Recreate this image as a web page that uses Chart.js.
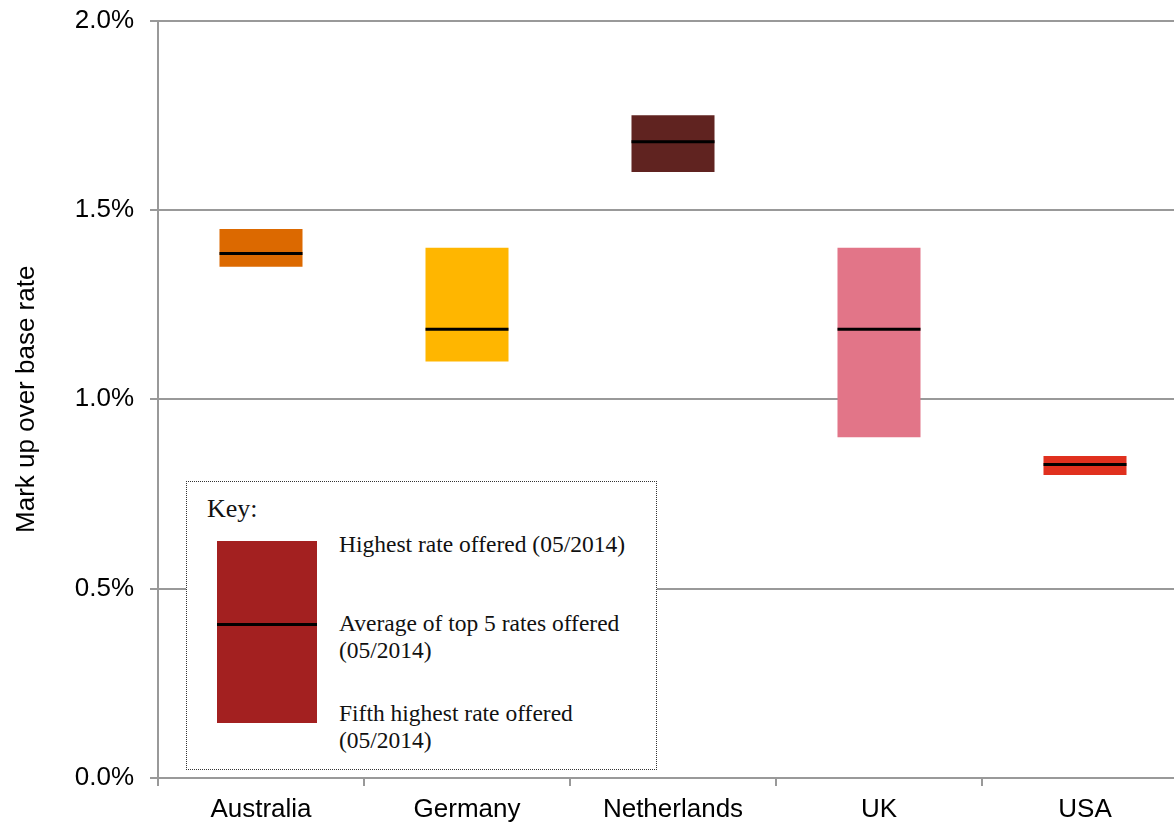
<!DOCTYPE html>
<html>
<head>
<meta charset="utf-8">
<title>Mark up over base rate</title>
<script src="https://cdn.jsdelivr.net/npm/chart.js@4.4.1/dist/chart.umd.min.js"></script>
<style>
    html, body {
        margin: 0;
        padding: 0;
        background: #fff;
        overflow: hidden;
    }
    #wrap {
        position: relative;
        width: 1188px;
        height: 822px;
        overflow: hidden;
    }
    /* canvas is pulled up so the top tick label overflow sits above the page */
    #rateChart {
        position: absolute;
        left: 0;
        top: -11px;
    }
    #key {
        position: absolute;
        left: 186px;
        top: 481px;
        width: 469px;
        height: 287px;
        border: 1px dotted #333;
        background: #fff;
        font-family: "Liberation Serif", "DejaVu Serif", serif;
        color: #111;
    }
    #key .title {
        position: absolute;
        left: 20px;
        top: 12px;
        font-size: 26px;
    }
    #key .swatch {
        position: absolute;
        left: 30px;
        top: 59px;
        width: 100px;
        height: 182px;
        background: #A32020;
    }
    #key .swatch div {
        position: absolute;
        left: 0;
        right: 0;
        top: 82px;
        height: 3px;
        background: #000;
    }
    #key .item {
        position: absolute;
        left: 152px;
        font-size: 23.5px;
        line-height: 27px;
        white-space: nowrap;
    }
</style>
</head>
<body>
<div id="wrap">
    <canvas id="rateChart" width="1188" height="833"></canvas>
    <div id="key">
        <div class="title">Key:</div>
        <div class="swatch"><div></div></div>
        <div class="item" style="top: 49px;">Highest rate offered (05/2014)</div>
        <div class="item" style="top: 128px;">Average of top 5 rates offered<br>(05/2014)</div>
        <div class="item" style="top: 218px;">Fifth highest rate offered<br>(05/2014)</div>
    </div>
</div>
<script>
const countries = ['Australia', 'Germany', 'Netherlands', 'UK', 'USA'];
const highestRate = [1.45, 1.40, 1.75, 1.40, 0.85];
const fifthRate = [1.35, 1.10, 1.60, 0.90, 0.80];
const averageTop5 = [1.385, 1.185, 1.68, 1.185, 0.828];
const barColors = ['#DC6900', '#FFB600', '#602320', '#E27588', '#E0301E'];
const yTicks = [0, 0.5, 1.0, 1.5, 2.0];

const gridGrey = '#999999';
const axisFont = { family: '"Liberation Sans", Arial, sans-serif', size: 26 };

// floating bars: fifth highest up to highest
const rangeData = countries.map((c, i) => [fifthRate[i], highestRate[i]]);

const ctx = document.getElementById('rateChart').getContext('2d');
new Chart(ctx, {
    data: {
        labels: countries,
        datasets: [{
            type: 'line',
            label: 'Average of top 5 rates offered',
            data: averageTop5,
            showLine: false,
            pointStyle: 'line',
            pointRadius: 41.5,
            pointHoverRadius: 41.5,
            pointBorderWidth: 3,
            pointBorderColor: '#000',
            borderColor: '#000',
            order: 0
        }, {
            type: 'bar',
            label: 'Range',
            data: rangeData,
            backgroundColor: barColors,
            borderWidth: 0,
            barPercentage: 1,
            categoryPercentage: 0.403,
            order: 1
        }]
    },
    options: {
        responsive: false,
        animation: false,
        layout: {
            autoPadding: false,
            padding: { top: 9, left: 11, right: 0, bottom: 0 }
        },
        plugins: {
            legend: { display: false },
            tooltip: { enabled: false }
        },
        scales: {
            x: {
                offset: true,
                grid: {
                    display: true,
                    drawOnChartArea: false,
                    drawTicks: true,
                    tickLength: 8,
                    color: gridGrey,
                    lineWidth: 2
                },
                border: { color: gridGrey, width: 2 },
                ticks: {
                    color: '#000',
                    padding: 8,
                    font: axisFont
                },
                afterFit: (scale) => { scale.height = 44; }
            },
            y: {
                min: 0,
                max: 2,
                afterBuildTicks: (scale) => {
                    scale.ticks = yTicks.map(v => ({ value: v }));
                },
                grid: {
                    color: gridGrey,
                    lineWidth: 2,
                    tickLength: 8
                },
                border: { color: gridGrey, width: 2 },
                ticks: {
                    color: '#000',
                    padding: 16,
                    font: axisFont,
                    callback: (v) => v.toFixed(1) + '%'
                },
                title: {
                    display: true,
                    text: 'Mark up over base rate',
                    color: '#000',
                    padding: 0,
                    font: axisFont
                },
                afterFit: (scale) => { scale.width = 147; }
            }
        }
    }
});
</script>
</body>
</html>
